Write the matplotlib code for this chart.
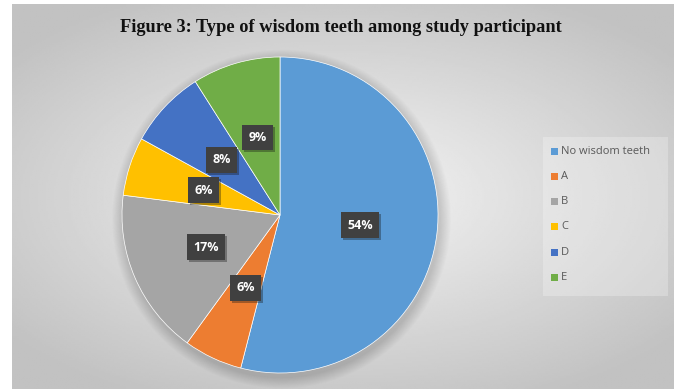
import numpy as np
import matplotlib
matplotlib.use("Agg")
import matplotlib.pyplot as plt
import matplotlib.patheffects as pe
from matplotlib.patches import Rectangle, Circle

# data
categories = ["No wisdom teeth", "A", "B", "C", "D", "E"]
percent = [54, 6, 17, 6, 8, 9]
colors = ["#5B9BD5", "#ED7D31", "#A5A5A5", "#FFC000", "#4472C4", "#70AD47"]
title = "Figure 3: Type of wisdom teeth among study participant"

W, H = 681, 389
fig = plt.figure(figsize=(W / 100, H / 100), dpi=100)
fig.patch.set_facecolor("white")

# gray radial-gradient background panel
bg = fig.add_axes([12 / W, 0, (674 - 12) / W, (H - 4) / H])
yy, xx = np.mgrid[-1:1:200j, -1:1:340j]
r = np.sqrt((xx / 1.1) ** 2 + (yy / 1.0) ** 2)
grad = np.clip(0.96 - 0.17 * r, 0.76, 0.96)
bg.imshow(grad, cmap="gray", vmin=0, vmax=1, aspect="auto", extent=[0, 1, 0, 1])
bg.set_axis_off()

fig.text(0.5, 1 - 27 / H, title, ha="center", va="center",
         fontsize=13.2, fontweight="bold", family="Liberation Serif", color="#111111")

# pie axes: center (280, 215), radius 158 px
cx, cy, rad = 280, 215, 158
ax = fig.add_axes([(cx - rad) / W, 1 - (cy + rad) / H, 2 * rad / W, 2 * rad / H])

# soft shadow under the pie
for i in range(12):
    ax.add_patch(Circle((0.01, -0.025), 1.0 + 0.006 * (12 - i), color="black",
                        alpha=0.012, lw=0, zorder=0, clip_on=False))

wedges, texts = ax.pie(percent, colors=colors, startangle=90, counterclock=False,
                       radius=1.0, wedgeprops=dict(linewidth=0.5, edgecolor="white"))
ax.set_xlim(-1, 1)
ax.set_ylim(-1, 1)
ax.set_axis_off()

# percentage labels in dark boxes
for w, p in zip(wedges, percent):
    ang = np.deg2rad((w.theta1 + w.theta2) / 2)
    x, y = 0.51 * np.cos(ang), 0.51 * np.sin(ang)
    t = ax.text(x, y, f"{p}%", ha="center", va="center", fontsize=9,
                fontweight="bold", family="Open Sans", color="white", zorder=4,
                bbox=dict(boxstyle="square,pad=0.5", fc="#404040", ec="none"))
    t.get_bbox_patch().set_path_effects(
        [pe.SimplePatchShadow(offset=(1.5, -1.5), alpha=0.35), pe.Normal()])

# legend
lg = fig.add_axes([543 / W, 1 - 296 / H, (668 - 543) / W, (296 - 137) / H])
lg.set_xlim(0, 125)
lg.set_ylim(296, 137)
lg.set_axis_off()
lg.add_patch(Rectangle((0, 137), 125, 159, fc="white", alpha=0.25, ec="none"))
for i, (c, col) in enumerate(zip(categories, colors)):
    ly = 151 + i * 25.3
    lg.add_patch(Rectangle((8, ly - 3.5), 7, 7, fc=col, ec="none"))
    lg.text(18, ly, c, ha="left", va="center", fontsize=8, family="Open Sans",
            color="#595959")

fig.savefig("out.png", dpi=100)
